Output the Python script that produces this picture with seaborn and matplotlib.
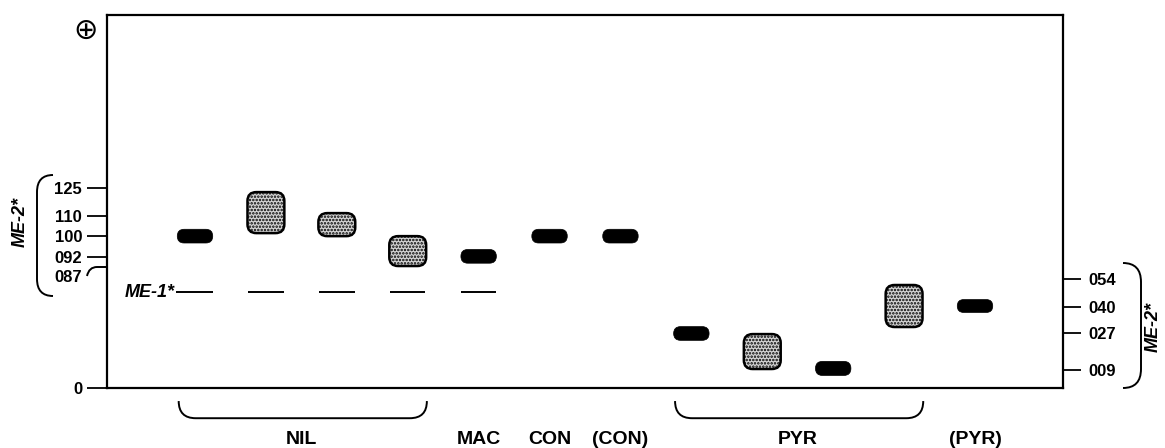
import matplotlib.pyplot as plt
import seaborn as sns
from matplotlib.patches import FancyBboxPatch, PathPatch
from matplotlib.path import Path

# lanes of the zymogram, bands in migration units (right-hand scale)
lanes = [1, 2, 3, 4, 5, 6, 7, 8, 9, 10, 11, 12]
band_kind = ['solid', 'stipple', 'stipple', 'stipple', 'solid', 'solid',
             'solid', 'solid', 'stipple', 'solid', 'stipple', 'solid']
band_low = [71.8, 76.7, 75.2, 60.4, 61.8, 71.8, 71.8, 23.6, 9.4, 6.2, 30.2, 37.4]
band_high = [78.6, 97.0, 86.6, 75.2, 68.6, 78.6, 78.6, 30.4, 26.7, 13.2, 51.0, 43.8]
me1_lanes = [1, 2, 3, 4, 5]
me1_pos = 47.5

left_tick_pos = [99.0, 85.1, 75.2, 64.9, 0]
left_tick_lab = ['125', '110', '100', '092', '0']
hook_lab, hook_lab_pos = '087', 54.9
right_tick_pos = [54, 40, 27, 9]
right_tick_lab = ['054', '040', '027', '009']

groups = ['NIL', 'MAC', 'CON', '(CON)', 'PYR', '(PYR)']
group_lanes = [[1, 2, 3, 4], [5], [6], [7], [8, 9, 10, 11], [12]]

sns.set_theme(style='white')
plt.rcParams['font.family'] = ['Liberation Sans', 'DejaVu Sans']
plt.rcParams['font.weight'] = 'bold'
plt.rcParams['hatch.linewidth'] = 1.2

W, H = 1165, 448
fig = plt.figure(figsize=(W / 100, H / 100), dpi=100)
ax = fig.add_axes([107 / W, (H - 388) / H, 956 / W, 373 / H])
xlim = (-0.241, 13.241)
ylim = (0, 184.7)
ax.set_xlim(*xlim)
ax.set_ylim(*ylim)
for s in ax.spines.values():
    s.set_color('black')
    s.set_linewidth(1.6)

# aspect so the rounded corners stay round on screen
px_x = 956 / (xlim[1] - xlim[0])
px_y = 373 / (ylim[1] - ylim[0])
m = px_x / px_y

for x, kind, lo, hi in zip(lanes, band_kind, band_low, band_high):
    h = hi - lo
    if kind == 'solid':
        w = 0.5
        r = 0.5 * h / m
        p = FancyBboxPatch((x - w / 2, lo), w, h, boxstyle=f'round,pad=0,rounding_size={r}',
                           mutation_aspect=m, facecolor='black', edgecolor='black', lw=0.5)
    else:
        w = 0.52
        r = 0.125
        p = FancyBboxPatch((x - w / 2, lo), w, h, boxstyle=f'round,pad=0,rounding_size={r}',
                           mutation_aspect=m, facecolor='#d4d4d4', edgecolor='black',
                           hatch='.....', lw=1.8)
    ax.add_patch(p)

# ME-1* reference bands
for x in me1_lanes:
    left = x - 0.27 if x == me1_lanes[0] else x - 0.25
    ax.hlines(me1_pos, left, x + 0.25, color='black', lw=1.4)
ax.text(me1_lanes[0] - 0.28, me1_pos, 'ME-1*', ha='right', va='center',
        style='italic', fontsize=13, color='black')

# left scale
ax.set_yticks(left_tick_pos, left_tick_lab)
ax.tick_params(axis='y', left=True, length=14.4, width=1.3, pad=3.6,
               labelsize=12, colors='black')
ax.text(-0.241 - 25 / px_x, hook_lab_pos, hook_lab, ha='right', va='center',
        fontsize=12, color='black')

# right scale
ax2 = ax.twinx()
ax2.set_ylim(*ylim)
ax2.set_yticks(right_tick_pos, right_tick_lab)
ax2.tick_params(axis='y', right=True, length=13, width=1.3, pad=5,
                labelsize=12, colors='black')
for s in ax2.spines.values():
    s.set_visible(False)

# group labels under lanes
centers = [sum(g) / len(g) for g in group_lanes]
ax.set_xticks(centers, groups)
ax.tick_params(axis='x', bottom=True, length=0, pad=31, labelsize=14, colors='black')

# braces under grouped lanes
tr = ax.get_xaxis_transform()
for g in group_lanes:
    if len(g) < 2:
        continue
    a, b = g[0] - 0.23, g[-1] + 0.27
    y0, y1 = -0.035, -0.081
    verts = [(a, y0), (a, y1), (a + 0.24, y1), (b - 0.24, y1), (b, y1), (b, y0)]
    codes = [Path.MOVETO, Path.CURVE3, Path.CURVE3, Path.LINETO, Path.CURVE3, Path.CURVE3]
    ax.add_patch(PathPatch(Path(verts, codes), transform=tr, fill=False,
                           edgecolor='black', lw=1.4, clip_on=False))


def fig_path(pts, codes):
    v = [(x / W, 1 - y / H) for x, y in pts]
    fig.add_artist(PathPatch(Path(v, codes), transform=fig.transFigure, fill=False,
                             edgecolor='black', lw=1.4))


C = [Path.MOVETO, Path.CURVE3, Path.CURVE3, Path.LINETO, Path.CURVE3, Path.CURVE3]
# left ME-2* bracket
fig_path([(53, 175), (37, 175), (37, 192), (37, 279), (37, 296), (53, 296)], C)
# right ME-2* bracket
fig_path([(1123, 263), (1141, 263), (1141, 282), (1141, 369), (1141, 388), (1123, 388)], C)
# hook tick for 087
fig_path([(87, 276), (89, 267), (97, 267), (107, 267)],
         [Path.MOVETO, Path.CURVE3, Path.CURVE3, Path.LINETO])

fig.text(20 / W, 1 - 222 / H, 'ME-2*', rotation=90, ha='center', va='center',
         style='italic', fontsize=13, color='black')
fig.text(1153 / W, 1 - 327 / H, 'ME-2*', rotation=90, ha='center', va='center',
         style='italic', fontsize=13, color='black')
fig.text(86 / W, 1 - 31 / H, '\u2295', ha='center', va='center', fontsize=21,
         family='DejaVu Sans', fontweight='normal', color='black')

fig.savefig('out.png', dpi=100, facecolor='white')
